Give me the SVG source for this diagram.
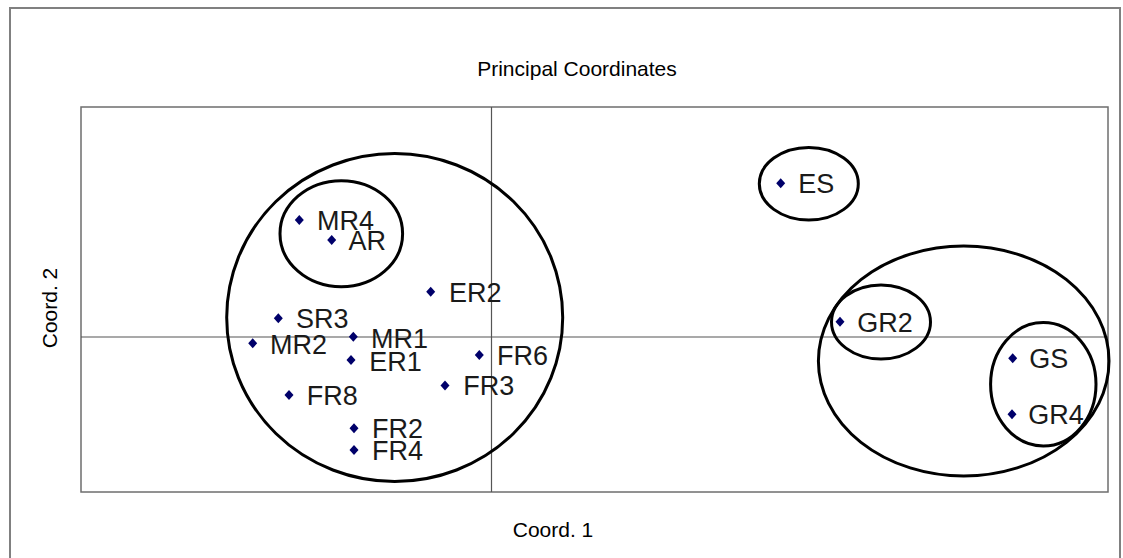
<svg xmlns="http://www.w3.org/2000/svg" xmlns:xlink="http://www.w3.org/1999/xlink" width="1123" height="558" viewBox="0 0 1123 558">
<style>
.frame{fill:none;stroke:#808080;stroke-width:2}
.plot{fill:#fff;stroke:#6e6e6e;stroke-width:1.5}
.axis{stroke:#555;stroke-width:1.2}
.grp{fill:none;stroke:#000;stroke-width:3}
.lbl{font-family:"Liberation Sans",Arial,sans-serif;font-size:27px;fill:#1a1a1a}
.ttl{font-family:"Liberation Sans",Arial,sans-serif;font-size:21px;fill:#000}
.pt{fill:#00006a}
</style>
<defs>
<path id="dia" d="M0,-5 L4.5,0 L0,5 L-4.5,0 Z"/>
</defs>
<rect x="0" y="0" width="1123" height="558" fill="#fff"/>
<rect class="frame" x="10" y="8" width="1110" height="570"/>
<text class="ttl" x="577" y="76" text-anchor="middle">Principal Coordinates</text>
<rect class="plot" x="81" y="107" width="1027" height="385"/>
<g id="axes">
<line class="axis" x1="491.5" y1="107" x2="491.5" y2="492"/>
<line class="axis" x1="81" y1="337" x2="1108" y2="337"/>
</g>
<text class="ttl" x="553" y="537" text-anchor="middle" font-size="20">Coord. 1</text>
<text class="ttl" x="0" y="0" text-anchor="middle" font-size="20" transform="translate(57,308) rotate(-90)">Coord. 2</text>
<g id="groups">
<ellipse id="grp-big-left" class="grp" cx="394.7" cy="317.5" rx="168" ry="164"/>
<ellipse id="grp-mr4-ar" class="grp" cx="341.3" cy="233.7" rx="61.3" ry="53"/>
<ellipse id="grp-es" class="grp" cx="808.8" cy="183.7" rx="49.5" ry="36.3"/>
<ellipse id="grp-big-right" class="grp" cx="963.7" cy="361" rx="145.3" ry="115"/>
<ellipse id="grp-gr2" class="grp" cx="881" cy="322" rx="49.5" ry="37"/>
<ellipse id="grp-gs-gr4" class="grp" cx="1043.3" cy="384.3" rx="52.7" ry="61.7"/>
</g>
<g id="MR4"><use href="#dia" class="pt" x="299.3" y="220"/><text class="lbl" x="317" y="230">MR4</text></g>
<g id="AR"><use href="#dia" class="pt" x="331.7" y="240"/><text class="lbl" x="348.5" y="249.5">AR</text></g>
<g id="ER2"><use href="#dia" class="pt" x="430.7" y="291.7"/><text class="lbl" x="449" y="301.7">ER2</text></g>
<g id="SR3"><use href="#dia" class="pt" x="278.3" y="318.3"/><text class="lbl" x="296" y="328.3">SR3</text></g>
<g id="MR2"><use href="#dia" class="pt" x="252.7" y="343.3"/><text class="lbl" x="270" y="354">MR2</text></g>
<g id="MR1"><use href="#dia" class="pt" x="353.3" y="336.7"/><text class="lbl" x="371" y="347.5">MR1</text></g>
<g id="ER1"><use href="#dia" class="pt" x="351" y="360"/><text class="lbl" x="369.3" y="370.7">ER1</text></g>
<g id="FR6"><use href="#dia" class="pt" x="479.3" y="355"/><text class="lbl" x="497" y="365">FR6</text></g>
<g id="FR3"><use href="#dia" class="pt" x="445" y="385.5"/><text class="lbl" x="463.3" y="395">FR3</text></g>
<g id="FR8"><use href="#dia" class="pt" x="289" y="395"/><text class="lbl" x="306.7" y="405">FR8</text></g>
<g id="FR2"><use href="#dia" class="pt" x="354" y="428.3"/><text class="lbl" x="372" y="438.3">FR2</text></g>
<g id="FR4"><use href="#dia" class="pt" x="354" y="450"/><text class="lbl" x="372" y="460">FR4</text></g>
<g id="ES"><use href="#dia" class="pt" x="780.7" y="183.3"/><text class="lbl" x="798.3" y="193.3">ES</text></g>
<g id="GR2"><use href="#dia" class="pt" x="840" y="321.7"/><text class="lbl" x="857.3" y="331.7">GR2</text></g>
<g id="GS"><use href="#dia" class="pt" x="1012.7" y="358.3"/><text class="lbl" x="1029.3" y="368.3">GS</text></g>
<g id="GR4"><use href="#dia" class="pt" x="1012" y="414.3"/><text class="lbl" x="1028.3" y="424">GR4</text></g>
</svg>
